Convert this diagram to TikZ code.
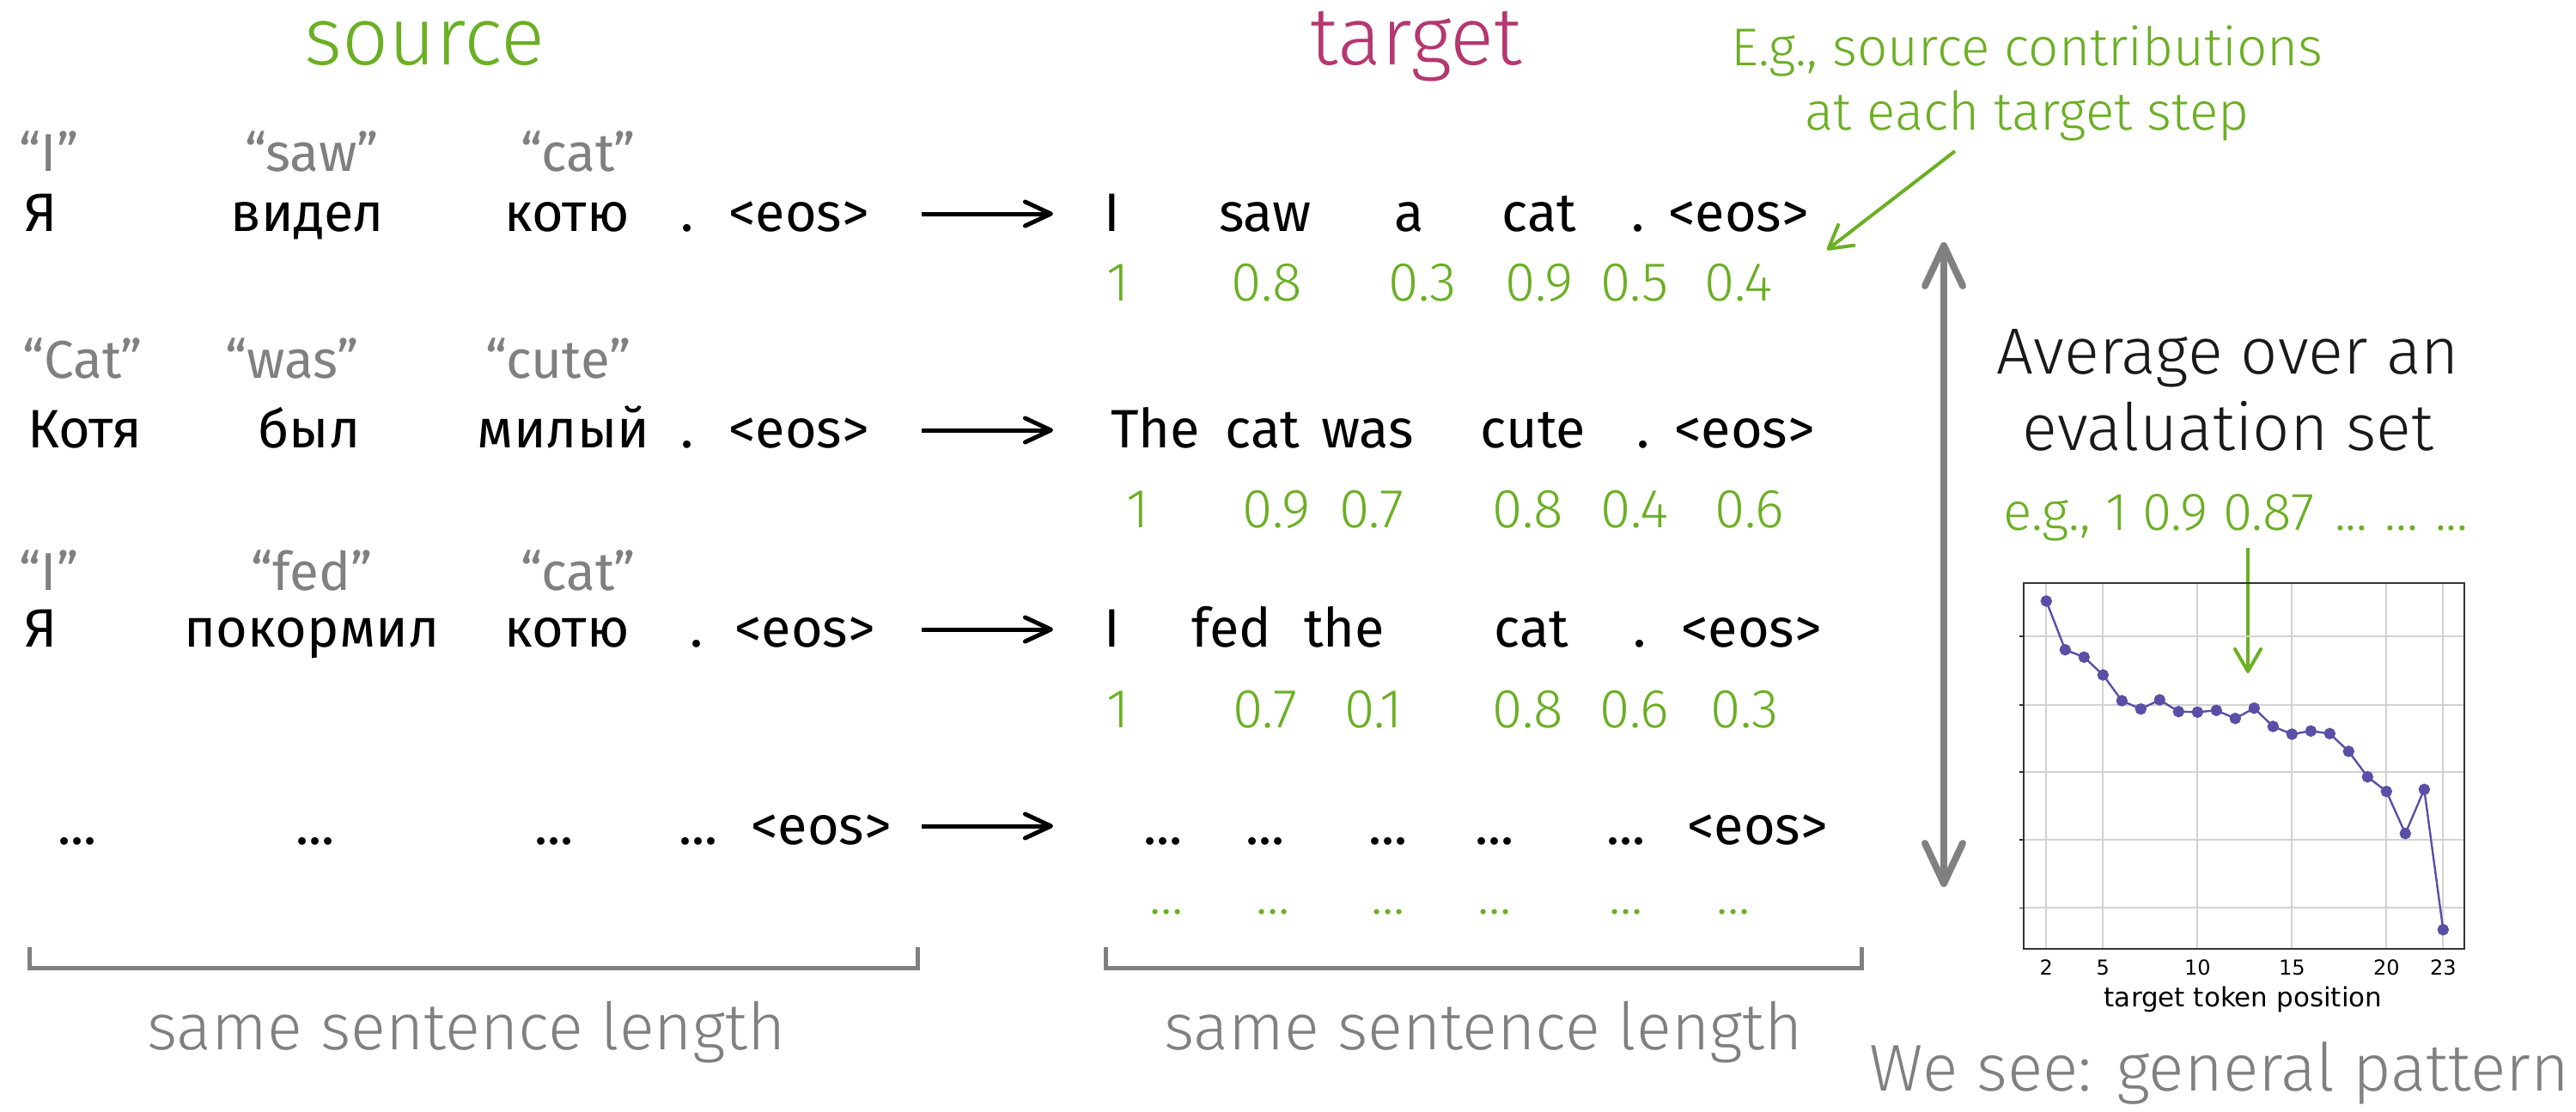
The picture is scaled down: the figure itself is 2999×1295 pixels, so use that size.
\documentclass[tikz,border=0pt]{standalone}
\usepackage{fontspec}
\setmainfont{Fira Sans Light}
\newfontfamily\tokfont{Fira Sans}
\newfontfamily\plotfont{DejaVu Sans}
\usetikzlibrary{arrows.meta,positioning}
\definecolor{srcgreen}{HTML}{6BAF24}
\definecolor{tgtpink}{HTML}{B5376F}
\definecolor{midgray}{HTML}{808080}
\definecolor{plotpurple}{HTML}{5A4FA6}
\definecolor{gridgray}{HTML}{D2D2D2}

\begin{document}
\begin{tikzpicture}[x=1pt,y=-1pt,
 every node/.style={inner sep=0pt,anchor=base},
 title/.style={font=\fontsize{95}{95}\selectfont},
 tok/.style={font=\tokfont\fontsize{63}{63}\selectfont},
 gloss/.style={font=\tokfont\fontsize{62}{62}\selectfont,text=midgray},
 num/.style={font=\fontsize{64}{64}\selectfont,text=srcgreen},
 note/.style={font=\fontsize{76}{76}\selectfont,text=midgray},
 remark/.style={font=\fontsize{62}{62}\selectfont,text=srcgreen},
 arr/.style={-{Straight Barb[length=30pt,width=28pt,round]},line width=5pt},
 greenarr/.style={-{Straight Barb[length=26pt,width=30pt,round]},line width=4pt,draw=srcgreen},
 brk/.style={draw=midgray,line width=5pt},
 ticklab/.style={font=\plotfont\fontsize{24}{24}\selectfont},
 gridline/.style={draw=gridgray,line width=1.8pt}]
\useasboundingbox (0,0) rectangle (2999,1295);

% headers
\node[title,text=srcgreen] (srchead) at (494,76) {source};
\node[title,text=tgtpink] (tgthead) at (1649,76) {target};

% sentence 1
\node[gloss] (g1a) at (57,199) {“I”};
\node[gloss] (g1b) at (363,199) {“saw”};
\node[gloss] (g1c) at (673,199) {“cat”};
\node[tok] (s1a) at (48,269) {Я};
\node[tok] (s1b) at (358,269) {видел};
\node[tok] (s1c) at (660,269) {котю};
\node[tok] (s1d) at (800,269) {.};
\node[tok] (s1e) at (930,269) {<eos>};
\node[tok] (t1a) at (1295,269) {I};
\node[tok] (t1b) at (1473,269) {saw};
\node[tok] (t1c) at (1641,269) {a};
\node[tok] (t1d) at (1792,269) {cat};
\node[tok] (t1e) at (1907,269) {.};
\node[tok] (t1f) at (2024,269) {<eos>};
\node[num] (n1a) at (1302,350) {1};
\node[num] (n1b) at (1475,350) {0.8};
\node[num] (n1c) at (1656,350) {0.3};
\node[num] (n1d) at (1792,350) {0.9};
\node[num] (n1e) at (1903,350) {0.5};
\node[num] (n1f) at (2024,350) {0.4};

% sentence 2
\node[gloss] (g2a) at (96,440) {“Cat”};
\node[gloss] (g2b) at (340,440) {“was”};
\node[gloss] (g2c) at (650,440) {“cute”};
\node[tok] (s2a) at (99,521) {Котя};
\node[tok] (s2b) at (360,521) {был};
\node[tok] (s2c) at (656,521) {милый};
\node[tok] (s2d) at (800,521) {.};
\node[tok] (s2e) at (930,521) {<eos>};
\node[tok] (t2a) at (1345,521) {The};
\node[tok] (t2b) at (1470,521) {cat};
\node[tok] (t2c) at (1592,521) {was};
\node[tok] (t2d) at (1785,521) {cute};
\node[tok] (t2e) at (1913,521) {.};
\node[tok] (t2f) at (2031,521) {<eos>};
\node[num] (n2a) at (1325,614) {1};
\node[num] (n2b) at (1486,614) {0.9};
\node[num] (n2c) at (1597,614) {0.7};
\node[num] (n2d) at (1779,614) {0.8};
\node[num] (n2e) at (1903,614) {0.4};
\node[num] (n2f) at (2037,614) {0.6};

% sentence 3
\node[gloss] (g3a) at (57,687) {“I”};
\node[gloss] (g3b) at (363,687) {“fed”};
\node[gloss] (g3c) at (673,687) {“cat”};
\node[tok] (s3a) at (48,753) {Я};
\node[tok] (s3b) at (363,753) {покормил};
\node[tok] (s3c) at (660,753) {котю};
\node[tok] (s3d) at (811,753) {.};
\node[tok] (s3e) at (937,753) {<eos>};
\node[tok] (t3a) at (1295,753) {I};
\node[tok] (t3b) at (1434,753) {fed};
\node[tok] (t3c) at (1565,753) {the};
\node[tok] (t3d) at (1783,753) {cat};
\node[tok] (t3e) at (1909,753) {.};
\node[tok] (t3f) at (2039,753) {<eos>};
\node[num] (n3a) at (1302,847) {1};
\node[num] (n3b) at (1473,847) {0.7};
\node[num] (n3c) at (1599,847) {0.1};
\node[num] (n3d) at (1779,847) {0.8};
\node[num] (n3e) at (1903,847) {0.6};
\node[num] (n3f) at (2031,847) {0.3};

% remaining sentences
\node[tok] (s4a) at (90,983) {...};
\node[tok] (s4b) at (367,983) {...};
\node[tok] (s4c) at (645,983) {...};
\node[tok] (s4d) at (813,983) {...};
\node[tok] (s4e) at (956,983) {<eos>};
\node[tok] (t4a) at (1354,983) {...};
\node[tok] (t4b) at (1473,983) {...};
\node[tok] (t4c) at (1616,983) {...};
\node[tok] (t4d) at (1740,983) {...};
\node[tok] (t4e) at (1893,983) {...};
\node[tok] (t4f) at (2046,983) {<eos>};
\node[num] (n4a) at (1358,1064) {...};
\node[num] (n4b) at (1482,1064) {...};
\node[num] (n4c) at (1616,1064) {...};
\node[num] (n4d) at (1740,1064) {...};
\node[num] (n4e) at (1893,1064) {...};
\node[num] (n4f) at (2018,1064) {...};

% translation arrows
\coordinate (a1) at (1073,249); \coordinate (b1) at (1226,249);
\coordinate (a2) at (1073,501); \coordinate (b2) at (1226,501);
\coordinate (a3) at (1073,733); \coordinate (b3) at (1226,733);
\coordinate (a4) at (1073,962); \coordinate (b4) at (1226,962);
\draw[arr] (a1)--(b1); \draw[arr] (a2)--(b2);
\draw[arr] (a3)--(b3); \draw[arr] (a4)--(b4);

% brackets
\coordinate (srcl) at (34,1103); \coordinate (srcr) at (1068,1103);
\coordinate (tgtl) at (1287,1103); \coordinate (tgtr) at (2167,1103);
\draw[brk] (srcl) -- ++(0,24) -| (srcr);
\draw[brk] (tgtl) -- ++(0,24) -| (tgtr);
\node[note] (srclen) at (543,1222) {same sentence length};
\node[note] (tgtlen) at (1727,1222) {same sentence length};

% right part
\node[remark] (eg1) at (2360,77) {E.g., source contributions};
\node[remark] (eg2) at (2360,152) {at each target step};
\coordinate (egfrom) at (2276,176); \coordinate (egto) at (2127,291);
\draw[greenarr] (egfrom) -- (egto);
\coordinate (avgtop) at (2263,282); \coordinate (avgbot) at (2263,1033);
\draw[{Straight Barb[length=47pt,width=44pt,round]}-{Straight Barb[length=47pt,width=44pt,round]},line width=8pt,draw=midgray] (avgtop) -- (avgbot);
\node[font=\fontsize{76}{76}\selectfont,text=black!90] (avg1) at (2594,435) {Average over an};
\node[font=\fontsize{76}{76}\selectfont,text=black!90] (avg2) at (2594,524) {evaluation set};
\node[font=\fontsize{62}{62}\selectfont,text=srcgreen] (avgex) at (2603,617) {e.g., 1 0.9 0.87\hspace{24pt}...\hspace{20pt}...\hspace{20pt}...};
\coordinate (pickfrom) at (2617,638); \coordinate (pickto) at (2617,784);
\draw[greenarr] (pickfrom) -- (pickto);
\node[note,font=\fontsize{77}{77}\selectfont] (pattern) at (2584,1270) {We see: general pattern};

% plot
\begin{scope}[shift={(2338.3,0)},x=22pt]
\foreach \gy in {741,821,898.7,977.7,1057.3}
  \draw[gridline] (0.818,\gy) -- (24.136,\gy);
\foreach \gx in {2,5,10,15,20,23}
  \draw[gridline] (\gx,679.3) -- (\gx,1105);
\foreach \gy in {741,821,898.7,977.7,1057.3}
  \draw[line width=1.6pt,black!80] (0.818,\gy) -- ++(-5pt,0);
\draw[line width=2pt,black!80] (0.818,679.3) rectangle (24.136,1105);
\foreach \gx in {2,5,10,15,20,23}
  \node[ticklab] at (\gx,1135) {\gx};
\node[font=\plotfont\fontsize{31}{31}\selectfont] (xlab) at (12.42,1172) {target token position};
\draw[plotpurple,line width=2.4pt] plot[mark=*,mark size=5.5pt] coordinates {(2,700) (3,756.7) (4,765.3) (5,786) (6,816) (7,825.7) (8,815) (9,828.7) (10,829.3) (11,827.3) (12,836.7) (13,824.7) (14,846) (15,855) (16,851.3) (17,854.3) (18,875) (19,904.7) (20,921.7) (21,970.7) (22,919.3) (23,1082.7)};
\end{scope}
\end{tikzpicture}
\end{document}
